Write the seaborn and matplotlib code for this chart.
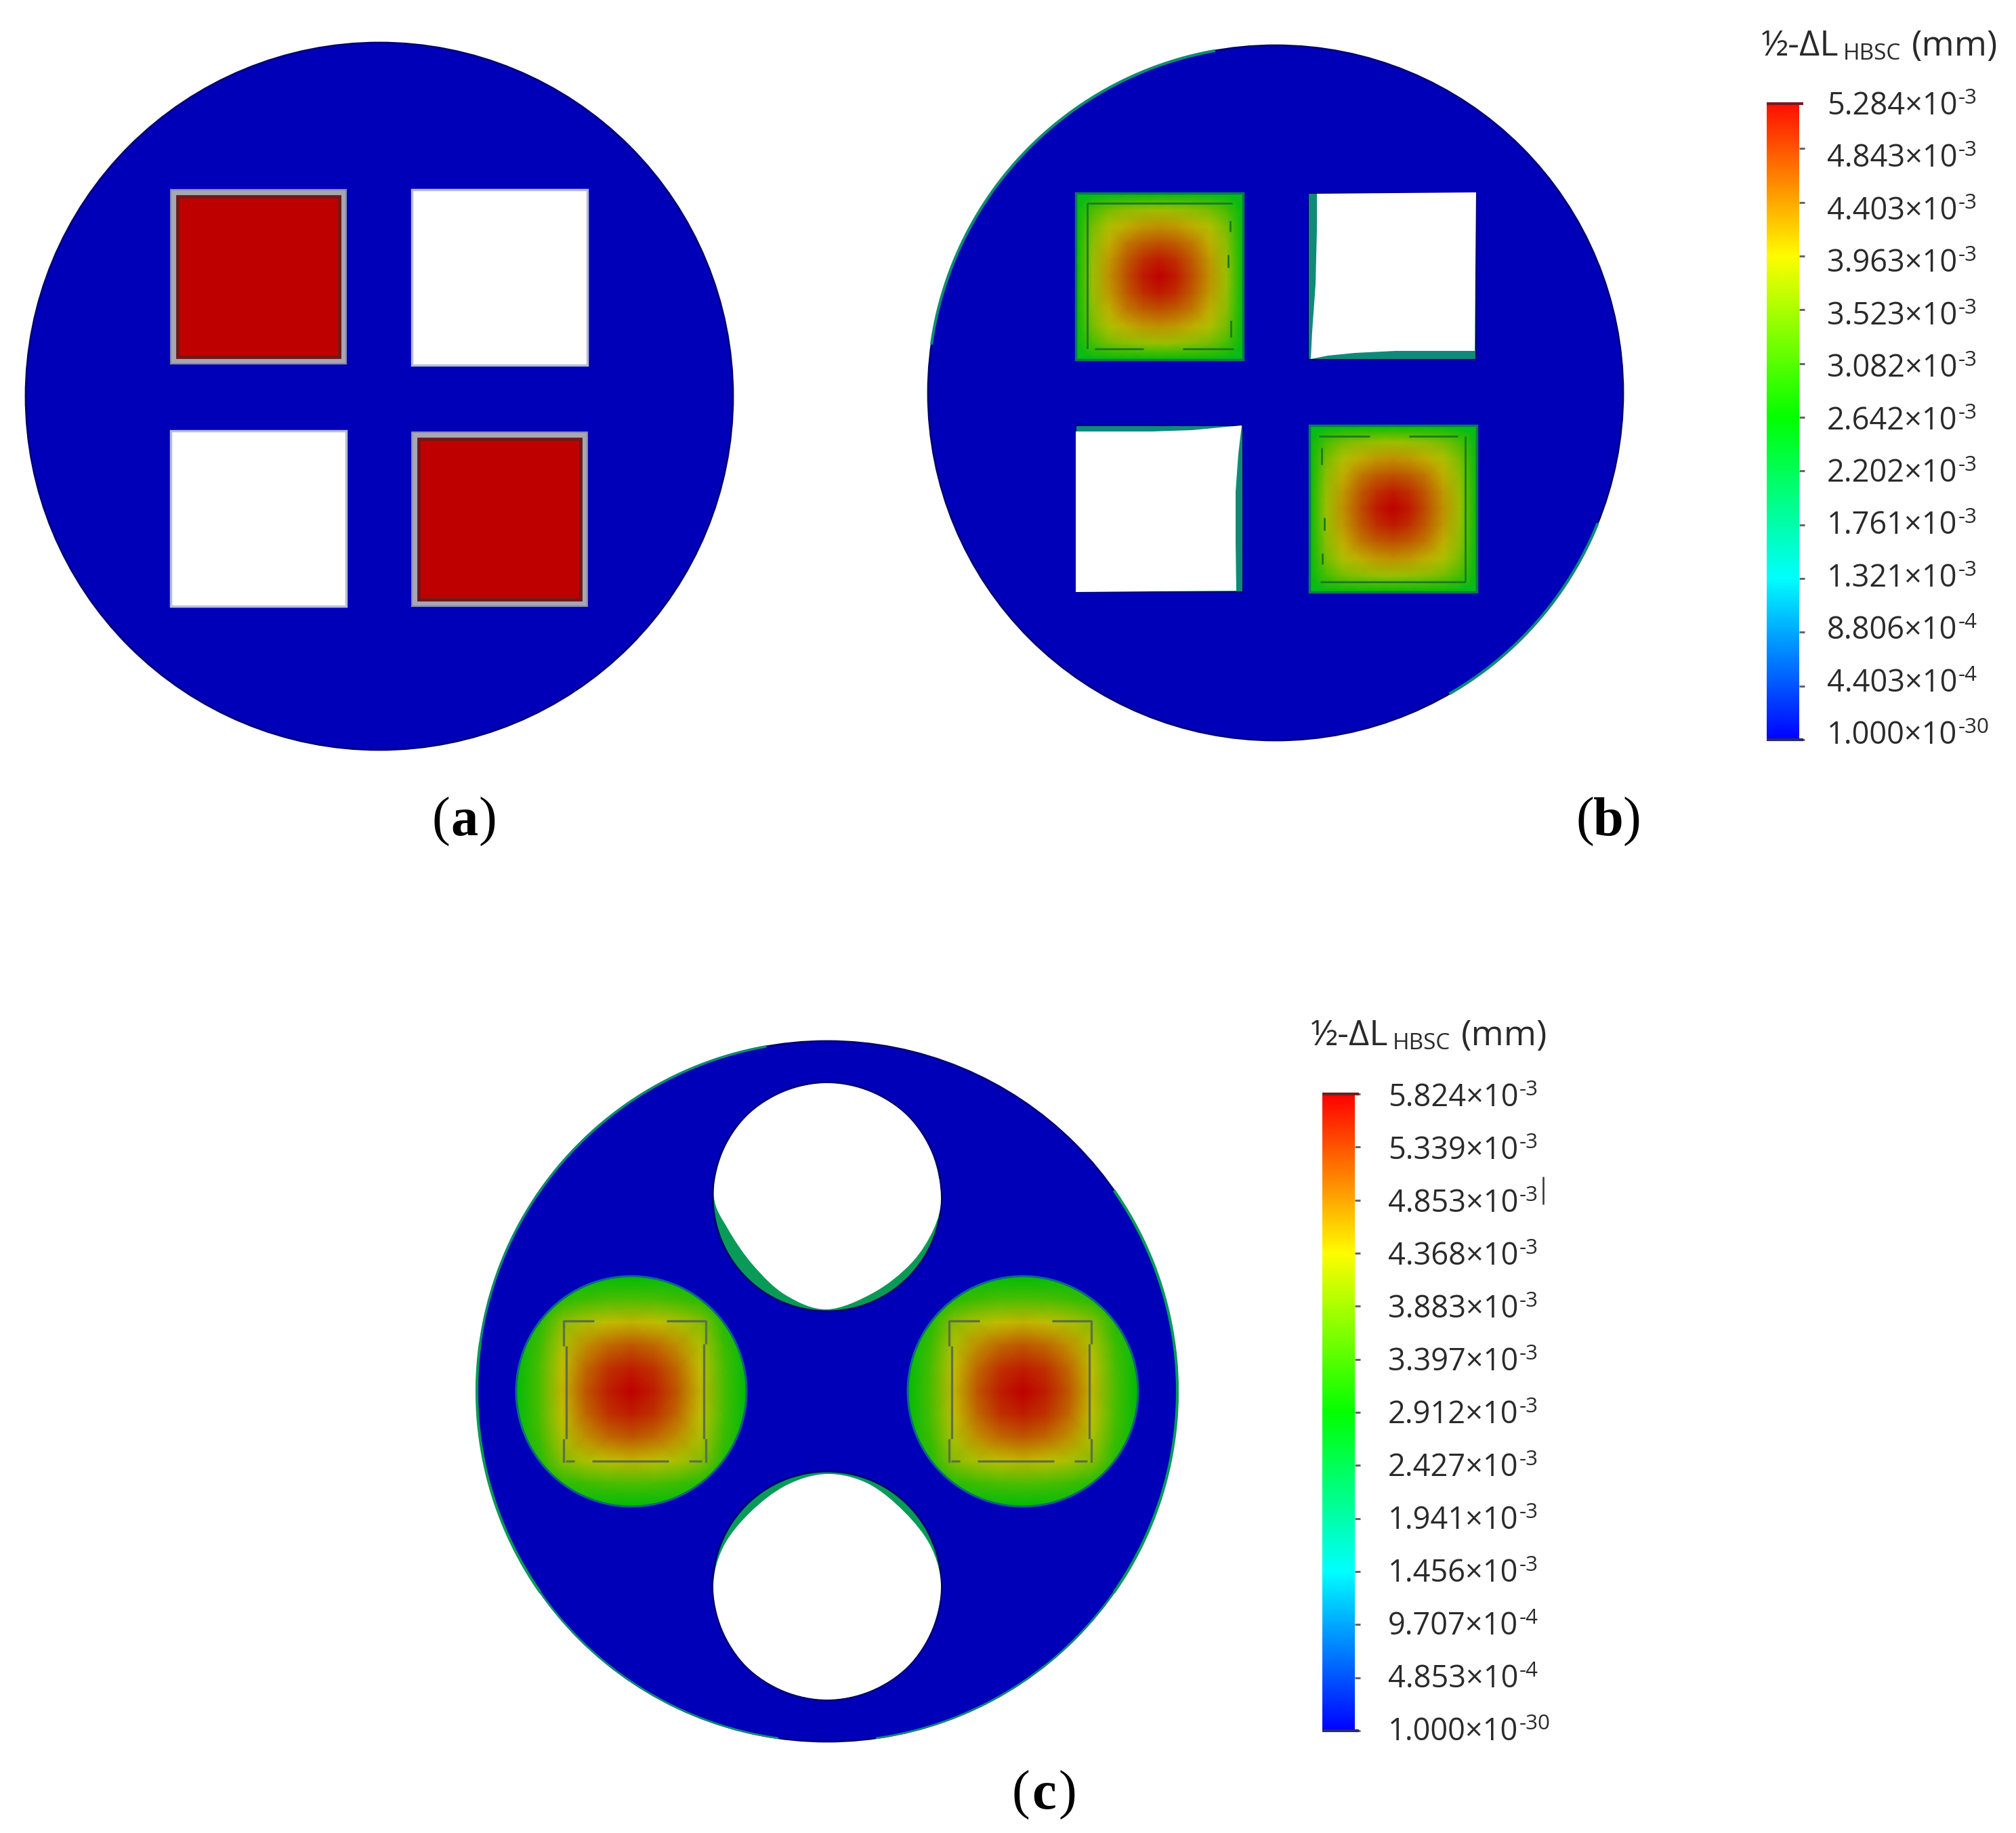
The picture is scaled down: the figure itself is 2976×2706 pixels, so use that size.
# Imports

import numpy             as np
import seaborn           as sns
import matplotlib
matplotlib.use("Agg")
import matplotlib.pyplot as plt
from matplotlib.colors   import LinearSegmentedColormap
from matplotlib.path     import Path
from matplotlib.patches  import Circle, Rectangle, Polygon, PathPatch

#####

# Values, all in mm

LEVELS_B = [5.284e-3, 4.843e-3, 4.403e-3, 3.963e-3, 3.523e-3, 3.082e-3, 2.642e-3,
            2.202e-3, 1.761e-3, 1.321e-3, 8.806e-4, 4.403e-4, 1.000e-30]
LEVELS_C = [5.824e-3, 5.339e-3, 4.853e-3, 4.368e-3, 3.883e-3, 3.397e-3, 2.912e-3,
            2.427e-3, 1.941e-3, 1.456e-3, 9.707e-4, 4.853e-4, 1.000e-30]

# Coil fields, one quadrant each (center at [0, 0], edge of the box at [5, 5]), x 1e-3 mm
COIL_B = [[5.28, 5.08, 4.72, 4.28, 3.72, 2.62],
          [5.08, 4.95, 4.64, 4.22, 3.68, 2.60],
          [4.72, 4.64, 4.42, 4.08, 3.60, 2.58],
          [4.28, 4.22, 4.08, 3.85, 3.45, 2.55],
          [3.72, 3.68, 3.60, 3.45, 3.15, 2.50],
          [2.62, 2.60, 2.58, 2.55, 2.50, 2.40]]

COIL_C = [[5.82, 5.58, 5.15, 4.45, 3.50, 2.85],
          [5.58, 5.42, 5.02, 4.38, 3.46, 2.83],
          [5.15, 5.02, 4.72, 4.22, 3.38, 2.80],
          [4.45, 4.38, 4.22, 3.95, 3.20, 2.72],
          [3.50, 3.46, 3.38, 3.20, 2.90, 2.60],
          [2.85, 2.83, 2.80, 2.72, 2.60, 2.45]]

# Panel (a) is the uniform source on the coils
COIL_A = [[5.284, 5.284],
          [5.284, 5.284]]

#####

# Shape outlines in image pixels

HOLE_TOP = [(1221, 1599), (1285, 1612), (1340, 1648), (1376, 1703), (1389, 1767), (1378, 1815),
            (1345, 1865), (1290, 1908), (1221, 1933), (1160, 1912), (1112, 1868), (1075, 1815),
            (1054, 1767), (1066, 1703), (1102, 1648), (1157, 1612)]
HOLE_BOT = [(1221, 2176), (1281, 2190), (1335, 2232), (1374, 2283), (1389, 2341), (1376, 2405),
            (1340, 2460), (1285, 2496), (1221, 2509), (1157, 2496), (1102, 2460), (1066, 2405),
            (1053, 2341), (1068, 2283), (1108, 2232), (1162, 2192)]
HOLE_TR  = [(1944, 286), (2179, 284), (2177, 518), (2060, 518), (2000, 521), (1960, 525), (1935, 530),
            (1937, 490), (1942, 420), (1944, 340)]
HOLE_BL  = [(1588, 637), (1700, 637), (1760, 635), (1833, 628), (1828, 670), (1824, 726), (1824, 800),
            (1825, 872), (1588, 874)]

# Undeformed coil outline, offsets from the corner of the box
DASH_C = [[(0, 1), (45, 1)], [(152, 1), (210, 1)], [(3, 208), (16, 208)], [(42, 208), (155, 208)],
          [(185, 208), (204, 208)], [(0, 0), (0, 38)], [(4, 38), (4, 175)], [(0, 175), (0, 210)],
          [(210, 0), (210, 35)], [(207, 35), (207, 175)], [(210, 175), (210, 210)]]
DASH_B = [[(17, 15), (231, 15)], [(17, 15), (17, 230)], [(228, 41), (228, 57)], [(225, 91), (225, 110)],
          [(229, 188), (229, 213)], [(28, 230), (100, 230)], [(158, 230), (233, 230)]]

#####

W, H = 2976, 2706
DPI  = 100

sns.set_style("white")
plt.rcParams["font.family"] = ["Open Sans", "DejaVu Sans"]

BLUE  = "#0000B8"
NAVY  = "#000078"
TEAL  = "#108A78"
GREEN = "#0A9A58"
INK   = "#2A2A2A"

pure = ["#0000FF", "#00FFFF", "#00FF00", "#FFFF00", "#FF0000"]
lit  = ["#0000B8", "#00BFBF", "#00BB00", "#BFBF00", "#BE0000"]   # the model is drawn shaded
CMAP_BAR   = LinearSegmentedColormap.from_list("bar", pure)
CMAP_MODEL = LinearSegmentedColormap.from_list("model", lit)

fig = plt.figure(figsize = (W / DPI, H / DPI), dpi = DPI, facecolor = "white")

def px_axes(x0, y0, x1, y1, z):
    ax = fig.add_axes([x0 / W, 1 - y1 / H, (x1 - x0) / W, (y1 - y0) / H], zorder = z)
    ax.set_facecolor("none")
    return ax

back = px_axes(0, 0, W, H, 0)
over = px_axes(0, 0, W, H, 5)
for a in (back, over):
    a.set_xlim(0, W)
    a.set_ylim(H, 0)
    a.axis("off")

#####

def mirror(quadrant):
    q   = np.array(quadrant)
    row = np.hstack([q[:, :0:-1], q])
    return np.vstack([row[:0:-1], row])

def field(values, box, vmax, clip = None):
    """Smooth field inside box (x0, y0, x1, y1), values in 1e-3 mm."""
    ax = px_axes(*box, 2)
    sns.heatmap(np.array(values), ax = ax, cmap = CMAP_MODEL, vmin = 0, vmax = vmax, cbar = False,
                xticklabels = False, yticklabels = False, shading = "gouraud")
    n = len(values) - 1
    ax.set_xlim(0, n)
    ax.set_ylim(n, 0)
    if clip is not None:
        ax.collections[0].set_clip_path(clip)
    return ax

def smooth_closed(points):
    """Closed Catmull-Rom outline through the points."""
    p     = np.array(points, dtype = float)
    n     = len(p)
    verts = [p[0]]
    codes = [Path.MOVETO]
    for i in range(n):
        p0, p1, p2, p3 = p[i - 1], p[i], p[(i + 1) % n], p[(i + 2) % n]
        verts += [p1 + (p2 - p0) / 6, p2 - (p3 - p1) / 6, p2]
        codes += [Path.CURVE4] * 3
    return Path(verts, codes)

def rim(cx, cy, r, start, end, color, lw = 2.4):
    t = np.radians(np.linspace(start, end, 120))
    over.plot(cx + r * np.cos(t), cy - r * np.sin(t), color = color, lw = lw, solid_capstyle = "butt")

def dashes(segments, x0, y0, color, lw, flip = None):
    for seg in segments:
        xs = [s[0] for s in seg]
        ys = [s[1] for s in seg]
        if flip is not None:
            xs = [flip[0] - v for v in xs]
            ys = [flip[1] - v for v in ys]
        over.plot([x0 + v for v in xs], [y0 + v for v in ys], color = color, lw = lw, solid_capstyle = "butt")

def colorbar(levels, box, top_row, label_x, label_rows, title_x, title_y):
    ax = px_axes(*box, 2)
    table = np.column_stack([levels, levels])
    sns.heatmap(table, ax = ax, cmap = CMAP_BAR, vmin = 0, vmax = levels[0], cbar = False,
                xticklabels = False, yticklabels = False, shading = "gouraud")
    ax.set_xlim(0, 1)
    ax.set_ylim(len(levels) - 1, top_row)
    ticks = [i for i in range(len(levels)) if i >= top_row]
    ax.set_yticks(ticks)
    ax.tick_params(axis = "y", left = False, right = True, labelleft = False, length = 5.5, width = 2.2, color = "#666666")
    over.hlines(box[1], box[0], box[2] + 6, color = "#7A1A1A", lw = 3)
    over.hlines(box[3], box[0], box[2] + 6, color = "#2A2A70", lw = 3)
    for value, y in zip(levels, label_rows):
        mant, exp = f"{value:.3e}".split("e")
        over.text(label_x, y + 16, f"{mant}×10", ha = "left", va = "baseline", fontsize = 32.5, color = INK)
        over.text(label_x + 194, y, str(int(exp)), ha = "left", va = "baseline", fontsize = 22.5, color = INK)
    over.text(title_x, title_y, "½-ΔL", ha = "left", va = "baseline", fontsize = 37.5, color = INK)
    over.text(title_x + 121, title_y + 6, "HBSC", ha = "left", va = "baseline", fontsize = 24, color = INK)
    over.text(title_x + 222, title_y, "(mm)", ha = "left", va = "baseline", fontsize = 37.5, color = INK)

def panel_label(letter, cx, base):
    kw = dict(va = "baseline", fontsize = 58, color = "black", family = "Liberation Serif")
    over.text(cx - 21, base, "(", ha = "right", **kw)
    over.text(cx, base, letter, ha = "center", fontweight = "bold", **kw)
    over.text(cx + 21, base, ")", ha = "left", **kw)

#####  Panel (a)

back.add_patch(Circle((560, 585), 522, facecolor = BLUE, edgecolor = NAVY, lw = 2))
for x0, y0 in [(608, 280), (252, 636)]:
    back.add_patch(Rectangle((x0, y0), 259, 259, facecolor = "white", edgecolor = "#B8BCD8", lw = 2.5))
for x0, y0 in [(252, 280), (608, 638)]:
    back.add_patch(Rectangle((x0, y0), 259, 257, facecolor = "#A6A6B4", edgecolor = "#8888A8", lw = 1.5))
    field(COIL_A, (x0 + 10, y0 + 10, x0 + 249, y0 + 247), 5.284)
    over.add_patch(Rectangle((x0 + 10, y0 + 10), 239, 237, fill = False, edgecolor = "#701818", lw = 3.5))

#####  Panel (b)

back.add_patch(Circle((1883, 580), 513, facecolor = BLUE, edgecolor = NAVY, lw = 2))
rim(1883, 580, 513, 100, 172, TEAL, 3)
rim(1883, 580, 513, -22, -60, TEAL, 3)

back.add_patch(Rectangle((1931, 285), 248, 246, facecolor = TEAL, edgecolor = NAVY, lw = 1.5))
back.add_patch(Polygon(HOLE_TR, closed = True, facecolor = "white", edgecolor = "none"))
back.add_patch(Rectangle((1588, 628), 247, 246, facecolor = TEAL, edgecolor = NAVY, lw = 1.5))
back.add_patch(Polygon(HOLE_BL, closed = True, facecolor = "white", edgecolor = "none"))

coil_b = mirror(COIL_B)
field(coil_b, (1588, 285, 1835, 531), 5.284)
field(coil_b, (1933, 628, 2180, 874), 5.284)
over.add_patch(Rectangle((1588, 285), 247, 246, fill = False, edgecolor = "#0A7A50", lw = 2.5))
over.add_patch(Rectangle((1933, 628), 247, 246, fill = False, edgecolor = "#0A7A50", lw = 2.5))
dashes(DASH_B, 1588, 285, "#1A7A20", 2.0)
dashes(DASH_B, 1933, 628, "#1A7A20", 2.0, flip = (247, 246))

#####  Panel (c)

back.add_patch(Circle((1221, 2054), 517, facecolor = BLUE, edgecolor = NAVY, lw = 2))
rim(1221, 2054, 517, 100, 172, TEAL, 2.6)
rim(1221, 2054, 517, 172, 215, GREEN, 3)
rim(1221, 2054, 517, -35, 35, GREEN, 3)
rim(1221, 2054, 517, 215, 262, TEAL, 2)
rim(1221, 2054, 517, 278, 325, TEAL, 2)

for cy, outline in [(1767, HOLE_TOP), (2341, HOLE_BOT)]:
    back.add_patch(Circle((1221, cy), 169, facecolor = GREEN, edgecolor = NAVY, lw = 2.2))
    back.add_patch(PathPatch(smooth_closed(outline), facecolor = "white", edgecolor = "none"))

coil_c = mirror(COIL_C)
for cx, corner in [(932, 832), (1510, 1401)]:
    clip = Circle((cx, 2054), 170, transform = over.transData)
    field(coil_c, (cx - 170, 1884, cx + 170, 2224), 5.824, clip = clip)
    over.add_patch(Circle((cx, 2054), 170, fill = False, edgecolor = "#0A6A80", lw = 2.2))
    dashes(DASH_C, corner, 1949, "#5F7044", 2.4)

#####  Colour scales and labels

colorbar(LEVELS_B, (2608, 153, 2656, 1092), 0.166, 2697, np.linspace(153, 1082, 13), 2600, 82)
colorbar(LEVELS_C, (1952, 1615, 2000, 2555), 0, 2049, np.linspace(1617, 2553, 13), 1935, 1543)
over.vlines(2278, 1737, 1778, color = "#333333", lw = 1.8)   # stray cursor in the original

panel_label("a", 685, 1233)
panel_label("b", 2374, 1233)
panel_label("c", 1541, 2670)

fig.savefig("out.png", dpi = DPI)
